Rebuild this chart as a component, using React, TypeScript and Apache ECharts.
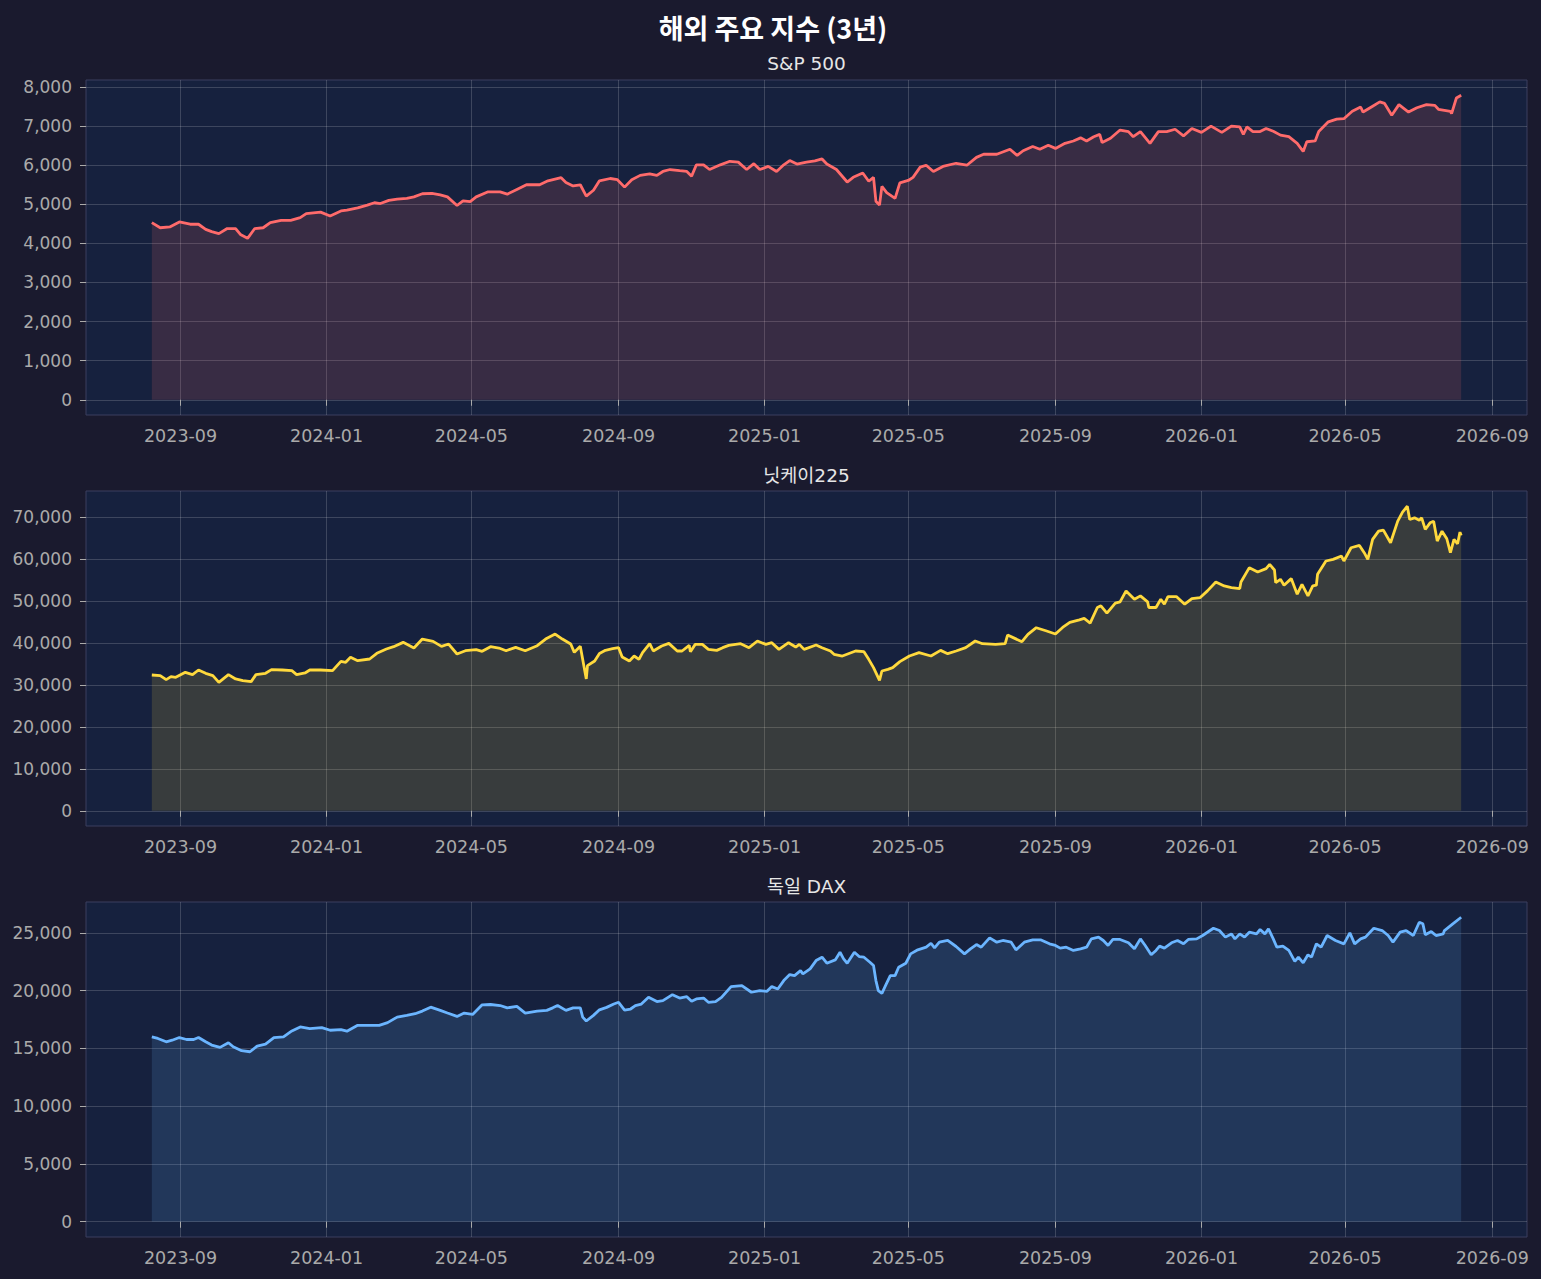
import React, { useEffect, useRef } from 'react';
import * as echarts from 'echarts';

// ---------- data ----------
const spDates = [
  '2023-08-08','2023-08-15','2023-08-23','2023-08-31','2023-09-09','2023-09-16','2023-09-22','2023-09-27','2023-10-03','2023-10-10',
  '2023-10-17','2023-10-21','2023-10-27','2023-11-02','2023-11-09','2023-11-15','2023-11-24','2023-12-02','2023-12-10','2023-12-15',
  '2023-12-27','2024-01-04','2024-01-13','2024-01-18','2024-01-27','2024-02-04','2024-02-10','2024-02-15','2024-02-22','2024-02-29',
  '2024-03-08','2024-03-14','2024-03-21','2024-03-29','2024-04-05','2024-04-11','2024-04-19','2024-04-24','2024-04-30','2024-05-05',
  '2024-05-15','2024-05-25','2024-05-31','2024-06-08','2024-06-16','2024-06-27','2024-07-04','2024-07-15','2024-07-19','2024-07-25',
  '2024-07-31','2024-08-05','2024-08-11','2024-08-16','2024-08-25','2024-08-31','2024-09-06','2024-09-12','2024-09-19','2024-09-27',
  '2024-10-03','2024-10-08','2024-10-14','2024-10-22','2024-10-28','2024-11-01','2024-11-05','2024-11-11','2024-11-16','2024-11-25',
  '2024-12-03','2024-12-10','2024-12-17','2024-12-23','2024-12-28','2025-01-04','2025-01-11','2025-01-17','2025-01-22','2025-01-28',
  '2025-02-05','2025-02-12','2025-02-18','2025-02-22','2025-03-02','2025-03-11','2025-03-16','2025-03-24','2025-03-29','2025-04-02',
  '2025-04-04','2025-04-07','2025-04-09','2025-04-13','2025-04-20','2025-04-24','2025-05-01','2025-05-05','2025-05-11','2025-05-16',
  '2025-05-22','2025-05-30','2025-06-10','2025-06-19','2025-06-27','2025-07-03','2025-07-14','2025-07-25','2025-07-31','2025-08-05',
  '2025-08-13','2025-08-19','2025-08-26','2025-09-01','2025-09-09','2025-09-16','2025-09-22','2025-09-27','2025-10-03','2025-10-08',
  '2025-10-10','2025-10-17','2025-10-25','2025-11-01','2025-11-05','2025-11-11','2025-11-19','2025-11-26','2025-12-03','2025-12-10',
  '2025-12-17','2025-12-24','2026-01-01','2026-01-09','2026-01-18','2026-01-26','2026-02-02','2026-02-05','2026-02-08','2026-02-13',
  '2026-02-19','2026-02-24','2026-03-02','2026-03-08','2026-03-15','2026-03-22','2026-03-27','2026-03-30','2026-04-06','2026-04-09',
  '2026-04-17','2026-04-24','2026-04-30','2026-05-07','2026-05-14','2026-05-16','2026-05-23','2026-05-30','2026-06-03','2026-06-09',
  '2026-06-15','2026-06-23','2026-06-30','2026-07-08','2026-07-15','2026-07-18','2026-07-28','2026-07-29','2026-08-02','2026-08-06',
];
const spValues = [
  4530,4400,4420,4550,4490,4490,4360,4300,4250,4380,
  4380,4230,4130,4380,4400,4530,4590,4590,4660,4760,
  4800,4700,4830,4850,4910,4980,5040,5020,5100,5130,
  5150,5190,5270,5280,5240,5190,4970,5090,5070,5190,
  5320,5320,5260,5380,5500,5500,5600,5680,5560,5470,
  5500,5210,5360,5600,5660,5630,5440,5630,5740,5780,
  5740,5840,5890,5860,5840,5720,6010,6010,5890,6010,
  6100,6080,5890,6040,5890,5970,5840,6010,6120,6030,
  6080,6110,6160,6030,5890,5570,5690,5800,5590,5690,
  5080,4980,5460,5300,5150,5550,5610,5690,5950,6000,
  5840,5970,6050,6000,6200,6280,6280,6410,6250,6370,
  6480,6410,6510,6430,6560,6620,6700,6620,6730,6790,
  6580,6690,6900,6860,6730,6860,6560,6860,6860,6920,
  6750,6940,6840,7000,6840,7000,6980,6790,6980,6860,
  6860,6940,6870,6770,6730,6560,6350,6600,6620,6860,
  7110,7180,7190,7380,7490,7360,7490,7620,7580,7280,
  7550,7360,7470,7550,7530,7430,7380,7320,7720,7790,
];

const nkDates = [
  '2023-08-08','2023-08-15','2023-08-20','2023-08-24','2023-08-28','2023-09-05','2023-09-11','2023-09-16','2023-09-22','2023-09-28',
  '2023-10-03','2023-10-11','2023-10-17','2023-10-23','2023-10-30','2023-11-03','2023-11-11','2023-11-16','2023-11-25','2023-12-03',
  '2023-12-07','2023-12-14','2023-12-18','2023-12-27','2024-01-06','2024-01-13','2024-01-17','2024-01-21','2024-01-27','2024-02-06',
  '2024-02-12','2024-02-20','2024-02-26','2024-03-05','2024-03-14','2024-03-21','2024-03-30','2024-04-06','2024-04-12','2024-04-19',
  '2024-04-26','2024-05-05','2024-05-10','2024-05-17','2024-05-24','2024-05-30','2024-06-07','2024-06-15','2024-06-25','2024-07-02',
  '2024-07-10','2024-07-16','2024-07-23','2024-07-26','2024-07-31','2024-08-05','2024-08-06','2024-08-12','2024-08-16','2024-08-21',
  '2024-08-27','2024-09-01','2024-09-04','2024-09-10','2024-09-14','2024-09-18','2024-09-21','2024-09-27','2024-09-30','2024-10-07',
  '2024-10-13','2024-10-20','2024-10-24','2024-10-30','2024-10-31','2024-11-04','2024-11-10','2024-11-15','2024-11-22','2024-11-27',
  '2024-12-02','2024-12-12','2024-12-19','2024-12-26','2025-01-02','2025-01-07','2025-01-13','2025-01-21','2025-01-27','2025-01-30',
  '2025-02-03','2025-02-13','2025-02-18','2025-02-25','2025-02-28','2025-03-07','2025-03-18','2025-03-25','2025-03-29','2025-04-02',
  '2025-04-07','2025-04-09','2025-04-14','2025-04-18','2025-04-24','2025-05-02','2025-05-10','2025-05-20','2025-05-28','2025-06-03',
  '2025-06-10','2025-06-18','2025-06-26','2025-07-02','2025-07-13','2025-07-21','2025-07-23','2025-07-29','2025-08-04','2025-08-09',
  '2025-08-16','2025-08-24','2025-09-01','2025-09-07','2025-09-13','2025-09-21','2025-09-25','2025-09-30','2025-10-06','2025-10-09',
  '2025-10-14','2025-10-21','2025-10-25','2025-10-30','2025-11-06','2025-11-11','2025-11-17','2025-11-18','2025-11-24','2025-11-28',
  '2025-12-01','2025-12-04','2025-12-11','2025-12-18','2025-12-24','2025-12-31','2026-01-06','2026-01-13','2026-01-20','2026-01-26',
  '2026-02-02','2026-02-03','2026-02-10','2026-02-17','2026-02-24','2026-02-27','2026-03-03','2026-03-04','2026-03-08','2026-03-11',
  '2026-03-17','2026-03-22','2026-03-26','2026-03-31','2026-04-04','2026-04-07','2026-04-08','2026-04-15','2026-04-21','2026-04-28',
  '2026-04-30','2026-05-06','2026-05-13','2026-05-17','2026-05-20','2026-05-24','2026-05-29','2026-06-02','2026-06-08','2026-06-14',
  '2026-06-18','2026-06-22','2026-06-24','2026-06-28','2026-07-02','2026-07-04','2026-07-07','2026-07-11','2026-07-14','2026-07-17',
  '2026-07-21','2026-07-25','2026-07-28','2026-07-31','2026-08-03','2026-08-05','2026-08-06',
];
const nkValues = [
  32380,32220,31270,31980,31830,33020,32460,33570,32780,32220,
  30630,32460,31430,31030,30790,32460,32780,33650,33570,33410,
  32460,32860,33570,33570,33410,35630,35400,36590,35790,36190,
  37540,38570,39130,40160,38810,40950,40400,39210,39760,37380,
  38170,38410,38020,39130,38810,38170,38970,38170,39370,40950,
  42140,40950,39760,37780,39210,31430,34600,35710,37500,38250,
  38650,38890,36670,35710,36900,36110,37700,39840,38100,39290,
  39920,38100,38100,39440,37940,39680,39680,38490,38250,38890,
  39440,39840,38890,40480,39680,40080,38490,40080,39050,39680,
  38490,39520,38890,38100,37300,36900,38100,37940,36110,34130,
  31110,33330,33730,34130,35560,36900,37700,36900,38250,37460,
  38100,38890,40480,39840,39680,39840,41900,41110,40320,42060,
  43650,42930,42140,43720,44910,45540,45860,44750,48470,48870,
  47130,49500,49820,52430,50450,51240,49820,48470,48470,50450,
  49260,51080,51080,49260,50610,50850,52430,54570,53620,53220,
  52990,54570,57970,56940,57740,58760,57420,54410,55200,53780,
  55360,51640,54010,51240,53620,53780,56390,59560,59950,60740,
  59560,62720,63280,61540,59950,64700,66680,66920,63910,69060,
  71200,72620,69450,69850,69300,69850,67080,68660,69060,64300,
  66680,64860,61540,64700,63670,66450,65650,
];

const daxDates = [
  '2023-08-08','2023-08-13','2023-08-20','2023-08-25','2023-08-31','2023-09-06','2023-09-12','2023-09-16','2023-09-22','2023-09-27',
  '2023-10-04','2023-10-11','2023-10-15','2023-10-22','2023-10-29','2023-11-04','2023-11-11','2023-11-18','2023-11-26','2023-12-03',
  '2023-12-10','2023-12-18','2023-12-28','2024-01-04','2024-01-13','2024-01-18','2024-01-27','2024-02-07','2024-02-14','2024-02-21',
  '2024-02-29','2024-03-08','2024-03-15','2024-03-21','2024-03-28','2024-04-05','2024-04-11','2024-04-19','2024-04-25','2024-05-02',
  '2024-05-10','2024-05-17','2024-05-25','2024-05-31','2024-06-08','2024-06-15','2024-06-25','2024-07-03','2024-07-08','2024-07-12',
  '2024-07-19','2024-07-25','2024-07-31','2024-08-02','2024-08-05','2024-08-11','2024-08-16','2024-08-22','2024-08-28','2024-09-01',
  '2024-09-06','2024-09-11','2024-09-15','2024-09-20','2024-09-26','2024-10-03','2024-10-08','2024-10-16','2024-10-22','2024-10-28',
  '2024-11-01','2024-11-05','2024-11-11','2024-11-15','2024-11-21','2024-11-26','2024-12-04','2024-12-13','2024-12-21','2024-12-28',
  '2025-01-03','2025-01-07','2025-01-12','2025-01-17','2025-01-22','2025-01-26','2025-01-31','2025-02-02','2025-02-08','2025-02-13',
  '2025-02-18','2025-02-22','2025-03-01','2025-03-05','2025-03-08','2025-03-11','2025-03-17','2025-03-21','2025-03-25','2025-03-30',
  '2025-04-02','2025-04-04','2025-04-06','2025-04-09','2025-04-12','2025-04-16','2025-04-20','2025-04-23','2025-04-29','2025-05-03',
  '2025-05-09','2025-05-16','2025-05-20','2025-05-23','2025-05-27','2025-06-03','2025-06-10','2025-06-17','2025-06-22','2025-06-27',
  '2025-07-01','2025-07-08','2025-07-14','2025-07-19','2025-07-26','2025-07-30','2025-08-06','2025-08-13','2025-08-20','2025-08-27',
  '2025-09-01','2025-09-05','2025-09-10','2025-09-16','2025-09-22','2025-09-27','2025-10-01','2025-10-07','2025-10-11','2025-10-15',
  '2025-10-19','2025-10-25','2025-11-01','2025-11-06','2025-11-11','2025-11-15','2025-11-20','2025-11-24','2025-11-27','2025-12-01',
  '2025-12-07','2025-12-12','2025-12-17','2025-12-21','2025-12-28','2026-01-02','2026-01-11','2026-01-16','2026-01-21','2026-01-26',
  '2026-01-29','2026-02-02','2026-02-06','2026-02-10','2026-02-16','2026-02-19','2026-02-23','2026-02-26','2026-03-02','2026-03-05',
  '2026-03-10','2026-03-15','2026-03-20','2026-03-23','2026-03-27','2026-03-31','2026-04-03','2026-04-07','2026-04-11','2026-04-16',
  '2026-04-23','2026-04-30','2026-05-05','2026-05-09','2026-05-14','2026-05-18','2026-05-25','2026-06-01','2026-06-06','2026-06-10',
  '2026-06-16','2026-06-21','2026-06-27','2026-07-02','2026-07-05','2026-07-07','2026-07-12','2026-07-16','2026-07-22','2026-07-23',
  '2026-07-30','2026-08-06',
];
const daxValues = [
  16000,15860,15570,15710,15940,15770,15770,15940,15570,15290,
  15090,15490,15140,14800,14710,15200,15370,15940,16000,16510,
  16860,16710,16800,16570,16630,16490,17000,17000,17000,17230,
  17710,17860,18000,18230,18570,18290,18060,17770,18060,17940,
  18770,18800,18710,18510,18630,18060,18230,18290,18510,18710,
  18290,18510,18510,17710,17370,17860,18340,18550,18840,18990,
  18320,18410,18700,18840,19420,19050,19130,19650,19360,19480,
  19080,19280,19360,18990,19050,19420,20350,20430,19860,20000,
  19940,20350,20140,20870,21390,21300,21730,21450,21880,22600,
  22890,22370,22660,23320,22750,22370,23320,22950,22890,22460,
  22170,20870,20000,19770,20430,21300,21300,22020,22370,23180,
  23530,23760,24100,23700,24190,24340,23820,23180,23610,23990,
  23760,24570,24190,24340,24190,23530,24190,24390,24390,24050,
  23910,23680,23760,23480,23620,23760,24480,24630,24340,23910,
  24430,24430,24140,23620,24480,23910,23100,23480,23850,23680,
  24140,24340,24050,24430,24480,24770,25400,25200,24630,24910,
  24480,24910,24630,25060,24910,25290,24910,25340,24480,23760,
  23850,23480,22530,22900,22410,23100,22900,24050,23760,24770,
  24340,24050,25000,24050,24480,24630,25400,25200,24770,24200,
  25060,25200,24770,25920,25780,24830,25110,24770,24910,25200,
  25780,26350,
];

const xTickDates = [
  '2023-09-01','2024-01-01','2024-05-01','2024-09-01','2025-01-01',
  '2025-05-01','2025-09-01','2026-01-01','2026-05-01','2026-09-01',
];
const xRange = ['2023-06-14', '2026-09-30'];
const spTicks = [0, 1000, 2000, 3000, 4000, 5000, 6000, 7000, 8000];
const nkTicks = [0, 10000, 20000, 30000, 40000, 50000, 60000, 70000];
const daxTicks = [0, 5000, 10000, 15000, 20000, 25000];

const mainTitle = '해외 주요 지수 (3년)';
const panelTitles = ['S&P 500', '닛케이225', '독일 DAX'];

const FONT = "'DejaVu Sans', 'Noto Sans CJK KR', sans-serif";
const TITLE_FONT = "'Noto Sans CJK KR', 'DejaVu Sans', sans-serif";

const ts = (d: string) => Date.parse(d + 'T00:00:00Z');

export default function App() {
  const ref = useRef<HTMLDivElement>(null);

  useEffect(() => {
    if (!ref.current) return;
    const chart = echarts.init(ref.current, null, { renderer: 'svg' });

    const panels = [
      { top: 80, dates: spDates, values: spValues, ticks: spTicks, min: -390, max: 8180,
        color: '#ff6b6b', area: 'rgba(255,107,107,0.15)', title: panelTitles[0], titleY: 63 },
      { top: 491, dates: nkDates, values: nkValues, ticks: nkTicks, min: -3630, max: 76250,
        color: '#ffd93d', area: 'rgba(255,217,61,0.15)', title: panelTitles[1], titleY: 475 },
      { top: 902, dates: daxDates, values: daxValues, ticks: daxTicks, min: -1320, max: 27670,
        color: '#6bb5ff', area: 'rgba(107,181,255,0.15)', title: panelTitles[2], titleY: 886 },
    ];

    const gridLine = { show: true, lineStyle: { color: 'rgba(255,255,255,0.17)', width: 1 } };
    const labelColor = '#aaaaaa';
    const xTicks = xTickDates.map(ts);
    const fmtDate = (v: number) => {
      const d = new Date(v);
      return `${d.getUTCFullYear()}-${String(d.getUTCMonth() + 1).padStart(2, '0')}`;
    };

    const option: any = {
      animation: false,
      backgroundColor: '#1a1a2e',
      grid: panels.map((p) => ({
        left: 86,
        top: p.top,
        width: 1441,
        height: 335,
        show: true,
        backgroundColor: '#16213e',
        borderColor: '#3a3e5e',
        borderWidth: 1,
        containLabel: false,
        outerBoundsMode: 'none',
      })),
      xAxis: panels.map((p, i) => ({
        type: 'value',
        gridIndex: i,
        min: ts(xRange[0]),
        max: ts(xRange[1]),
        scale: true,
        axisLine: { show: false },
        axisTick: { show: true, length: 6, lineStyle: { color: labelColor }, customValues: xTicks },
        axisLabel: {
          customValues: xTicks,
          formatter: fmtDate,
          color: labelColor,
          fontSize: 17.5,
          fontFamily: FONT,
          margin: 12,
          showMinLabel: true,
          showMaxLabel: true,
        },
        splitLine: gridLine,
      })),
      yAxis: panels.map((p, i) => ({
        type: 'value',
        gridIndex: i,
        min: p.min,
        max: p.max,
        axisLine: { show: false },
        axisTick: { show: true, length: 6, lineStyle: { color: labelColor }, customValues: p.ticks },
        axisLabel: {
          customValues: p.ticks,
          formatter: (v: number) => Number(v).toLocaleString('en-US'),
          color: labelColor,
          fontSize: 17,
          fontFamily: FONT,
          margin: 14,
        },
        splitLine: gridLine,
      })),
      series: panels.map((p, i) => ({
        type: 'line',
        name: p.title,
        xAxisIndex: i,
        yAxisIndex: i,
        data: p.dates.map((d, j) => [ts(d), p.values[j]]),
        showSymbol: false,
        symbol: 'none',
        lineStyle: { color: p.color, width: 2.8 },
        itemStyle: { color: p.color },
        areaStyle: { color: p.area, opacity: 1 },
      })),
      graphic: [
        {
          type: 'text',
          x: 773,
          y: 27,
          style: {
            text: mainTitle,
            fill: '#ffffff',
            fontSize: 27,
            fontWeight: 'bold',
            fontFamily: TITLE_FONT,
            align: 'center',
            verticalAlign: 'middle',
          },
        },
        ...panels.map((p) => ({
          type: 'text',
          x: 806.5,
          y: p.titleY,
          style: {
            text: p.title,
            fill: '#e6e6e6',
            fontSize: 18.5,
            fontFamily: FONT,
            align: 'center',
            verticalAlign: 'middle',
          },
        })),
      ],
    };

    chart.setOption(option);
    return () => chart.dispose();
  }, []);

  return (
    <div
      ref={ref}
      style={{ position: 'fixed', left: 0, top: 0, width: 1541, height: 1279 }}
    />
  );
}
